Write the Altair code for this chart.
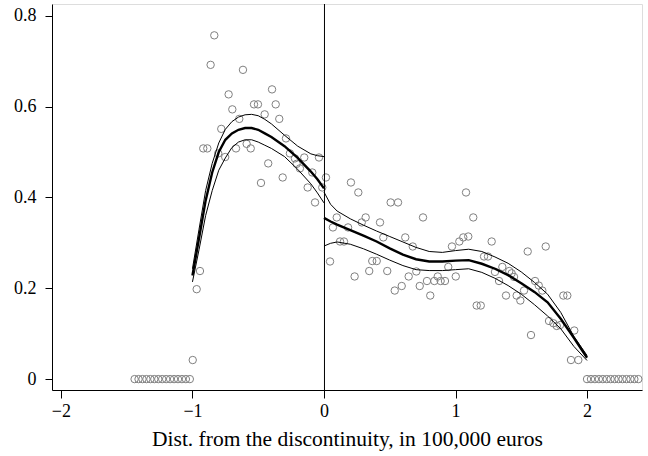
import altair as alt
import pandas as pd

# Scatter (bin averages)
pts_x = [-0.834, -0.862, -0.616, -0.725, -0.395, -0.697, -0.532, -0.502, -0.367, -0.451,
         -0.644, -0.340, -0.781, -0.918, -0.887, -0.804, -0.751, -0.669, -0.588, -0.557,
         -0.289, -0.424, -0.479, -0.314, -0.259, -0.221, -0.208, -0.183, -0.150, -0.089,
         -0.038, -0.124, -0.013, -0.068, -0.943, -0.968, -0.998,
         0.015, 0.205, 0.261, 0.507, 0.563, 1.080, 0.097, 0.317, 0.287, 0.426,
         0.068, 0.183, 0.753, 0.451, 0.618, 0.122, 0.152, 0.675, 0.046, 0.367,
         0.401, 0.344, 0.481, 0.233, 0.702, 0.644, 0.591, 0.538, 0.728, 0.783,
         0.839, 0.865, 0.887, 0.920, 0.808, 0.945, 1.002, 0.973, 1.029, 1.059,
         1.097, 1.135, 1.275, 1.217, 1.247, 1.549, 1.686, 1.356, 1.300, 1.409,
         1.427, 1.445, 1.331, 1.605, 1.633, 1.660, 1.521, 1.384, 1.465, 1.493,
         1.820, 1.850, 1.161, 1.192, 1.711, 1.744, 1.770, 1.795, 1.903, 1.574,
         1.878, 1.934]
pts_y = [0.757, 0.692, 0.681, 0.627, 0.638, 0.594, 0.605, 0.605, 0.605, 0.583,
         0.573, 0.573, 0.551, 0.508, 0.508, 0.497, 0.489, 0.508, 0.518, 0.508,
         0.530, 0.475, 0.432, 0.444, 0.497, 0.486, 0.474, 0.464, 0.488, 0.455,
         0.488, 0.422, 0.422, 0.389, 0.238, 0.198, 0.042,
         0.444, 0.433, 0.411, 0.389, 0.389, 0.411, 0.356, 0.356, 0.345, 0.345,
         0.334, 0.334, 0.356, 0.312, 0.312, 0.303, 0.303, 0.292, 0.259, 0.260,
         0.260, 0.238, 0.238, 0.226, 0.237, 0.226, 0.205, 0.195, 0.205, 0.216,
         0.216, 0.226, 0.216, 0.216, 0.184, 0.247, 0.226, 0.292, 0.303, 0.312,
         0.314, 0.356, 0.303, 0.270, 0.270, 0.281, 0.292, 0.247, 0.236, 0.238,
         0.233, 0.225, 0.216, 0.216, 0.206, 0.195, 0.195, 0.184, 0.184, 0.173,
         0.184, 0.184, 0.162, 0.162, 0.128, 0.123, 0.117, 0.119, 0.107, 0.097,
         0.042, 0.042]
zeros_left_x = [-1.44, -1.41, -1.38, -1.35, -1.32, -1.29, -1.26, -1.23, -1.20, -1.17,
                -1.14, -1.11, -1.08, -1.05, -1.02]
zeros_right_x = [2.00, 2.03, 2.06, 2.09, 2.12, 2.15, 2.18, 2.21, 2.24, 2.27,
                 2.30, 2.33, 2.36, 2.39]

# Fitted curves
left_x = [-1.0, -0.95, -0.9, -0.85, -0.8, -0.75, -0.7, -0.65, -0.6, -0.55, -0.5,
          -0.45, -0.4, -0.3, -0.2, -0.1, -0.05, 0.0]
left_mid = [0.228, 0.31, 0.393, 0.455, 0.50, 0.527, 0.541, 0.549, 0.553, 0.553, 0.549,
            0.541, 0.533, 0.513, 0.487, 0.457, 0.44, 0.42]
left_up = [0.243, 0.33, 0.415, 0.475, 0.52, 0.55, 0.567, 0.577, 0.582, 0.583, 0.580,
           0.572, 0.562, 0.537, 0.513, 0.496, 0.492, 0.49]
left_lo = [0.214, 0.285, 0.36, 0.415, 0.46, 0.487, 0.51, 0.522, 0.527, 0.527, 0.522,
           0.515, 0.508, 0.49, 0.462, 0.43, 0.41, 0.388]

right_x = [0.0, 0.05, 0.1, 0.2, 0.3, 0.4, 0.5, 0.6, 0.7, 0.8, 0.9, 1.0, 1.1, 1.2, 1.3,
           1.4, 1.5, 1.6, 1.7, 1.8, 1.9, 2.0]
right_mid = [0.355, 0.347, 0.34, 0.328, 0.316, 0.303, 0.288, 0.274, 0.264, 0.259, 0.259,
             0.261, 0.262, 0.254, 0.243, 0.229, 0.211, 0.192, 0.169, 0.133, 0.091, 0.047]
right_up = [0.412, 0.385, 0.37, 0.353, 0.339, 0.326, 0.314, 0.302, 0.29, 0.281, 0.279,
            0.283, 0.286, 0.281, 0.269, 0.255, 0.236, 0.213, 0.187, 0.147, 0.094, 0.052]
right_lo = [0.293, 0.299, 0.302, 0.297, 0.287, 0.275, 0.262, 0.25, 0.241, 0.239, 0.239,
            0.241, 0.243, 0.235, 0.222, 0.206, 0.187, 0.164, 0.139, 0.111, 0.072, 0.041]

scatter_df = pd.DataFrame({
    "x": pts_x + zeros_left_x + zeros_right_x,
    "y": pts_y + [0.0] * len(zeros_left_x) + [0.0] * len(zeros_right_x),
})

rows = []
for side, xs, series in [("L", left_x, {"mid": left_mid, "up": left_up, "lo": left_lo}),
                         ("R", right_x, {"mid": right_mid, "up": right_up, "lo": right_lo})]:
    for name, ys in series.items():
        for xv, yv in zip(xs, ys):
            rows.append({"x": xv, "y": yv, "series": name, "grp": side + name})
curve_df = pd.DataFrame(rows)

FONT = "Liberation Serif"
xscale = alt.Scale(domain=[-2.068, 2.418], nice=False, zero=False)
yscale = alt.Scale(domain=[-0.024, 0.826], nice=False, zero=False)

xenc = alt.X("x:Q", scale=xscale,
             axis=alt.Axis(values=[-2, -1, 0, 1, 2], format="d",
                           title="Dist. from the discontinuity, in 100,000 euros",
                           titleFont=FONT, titleFontSize=21.5, titleFontWeight="normal",
                           titleColor="black", titlePadding=8,
                           labelFont=FONT, labelFontSize=18, labelColor="black",
                           labelPadding=4, tickSize=8, tickColor="black",
                           domainColor="black", grid=False))
yenc = alt.Y("y:Q", scale=yscale,
             axis=alt.Axis(values=[0, 0.2, 0.4, 0.6, 0.8], format="~g", title=None,
                           labelFont=FONT, labelFontSize=18, labelColor="black",
                           labelPadding=9, tickSize=7, tickColor="black",
                           domainColor="black", grid=False))

scatter = alt.Chart(scatter_df).mark_point(
    shape="circle", filled=False, color="#808080", size=55, strokeWidth=1, opacity=1
).encode(x=xenc, y=yenc)

bands = alt.Chart(curve_df).transform_filter(alt.datum.series != "mid").mark_line(
    color="black", strokeWidth=1
).encode(x="x:Q", y="y:Q", detail="grp:N")

mid = alt.Chart(curve_df).transform_filter(alt.datum.series == "mid").mark_line(
    color="black", strokeWidth=2.4
).encode(x="x:Q", y="y:Q", detail="grp:N")

vline = alt.Chart(pd.DataFrame({"x": [0]})).mark_rule(
    color="black", strokeWidth=1, xOffset=0.5
).encode(x="x:Q")

chart = alt.layer(scatter, vline, bands, mid).properties(
    width=590, height=386,
    autosize=alt.AutoSizeParams(type="none"),
    padding={"left": 52, "top": 4, "right": 6, "bottom": 66},
).configure_view(stroke=None).configure(background="white")

chart.save("out.html", embed_options={"renderer": "svg", "actions": False})
